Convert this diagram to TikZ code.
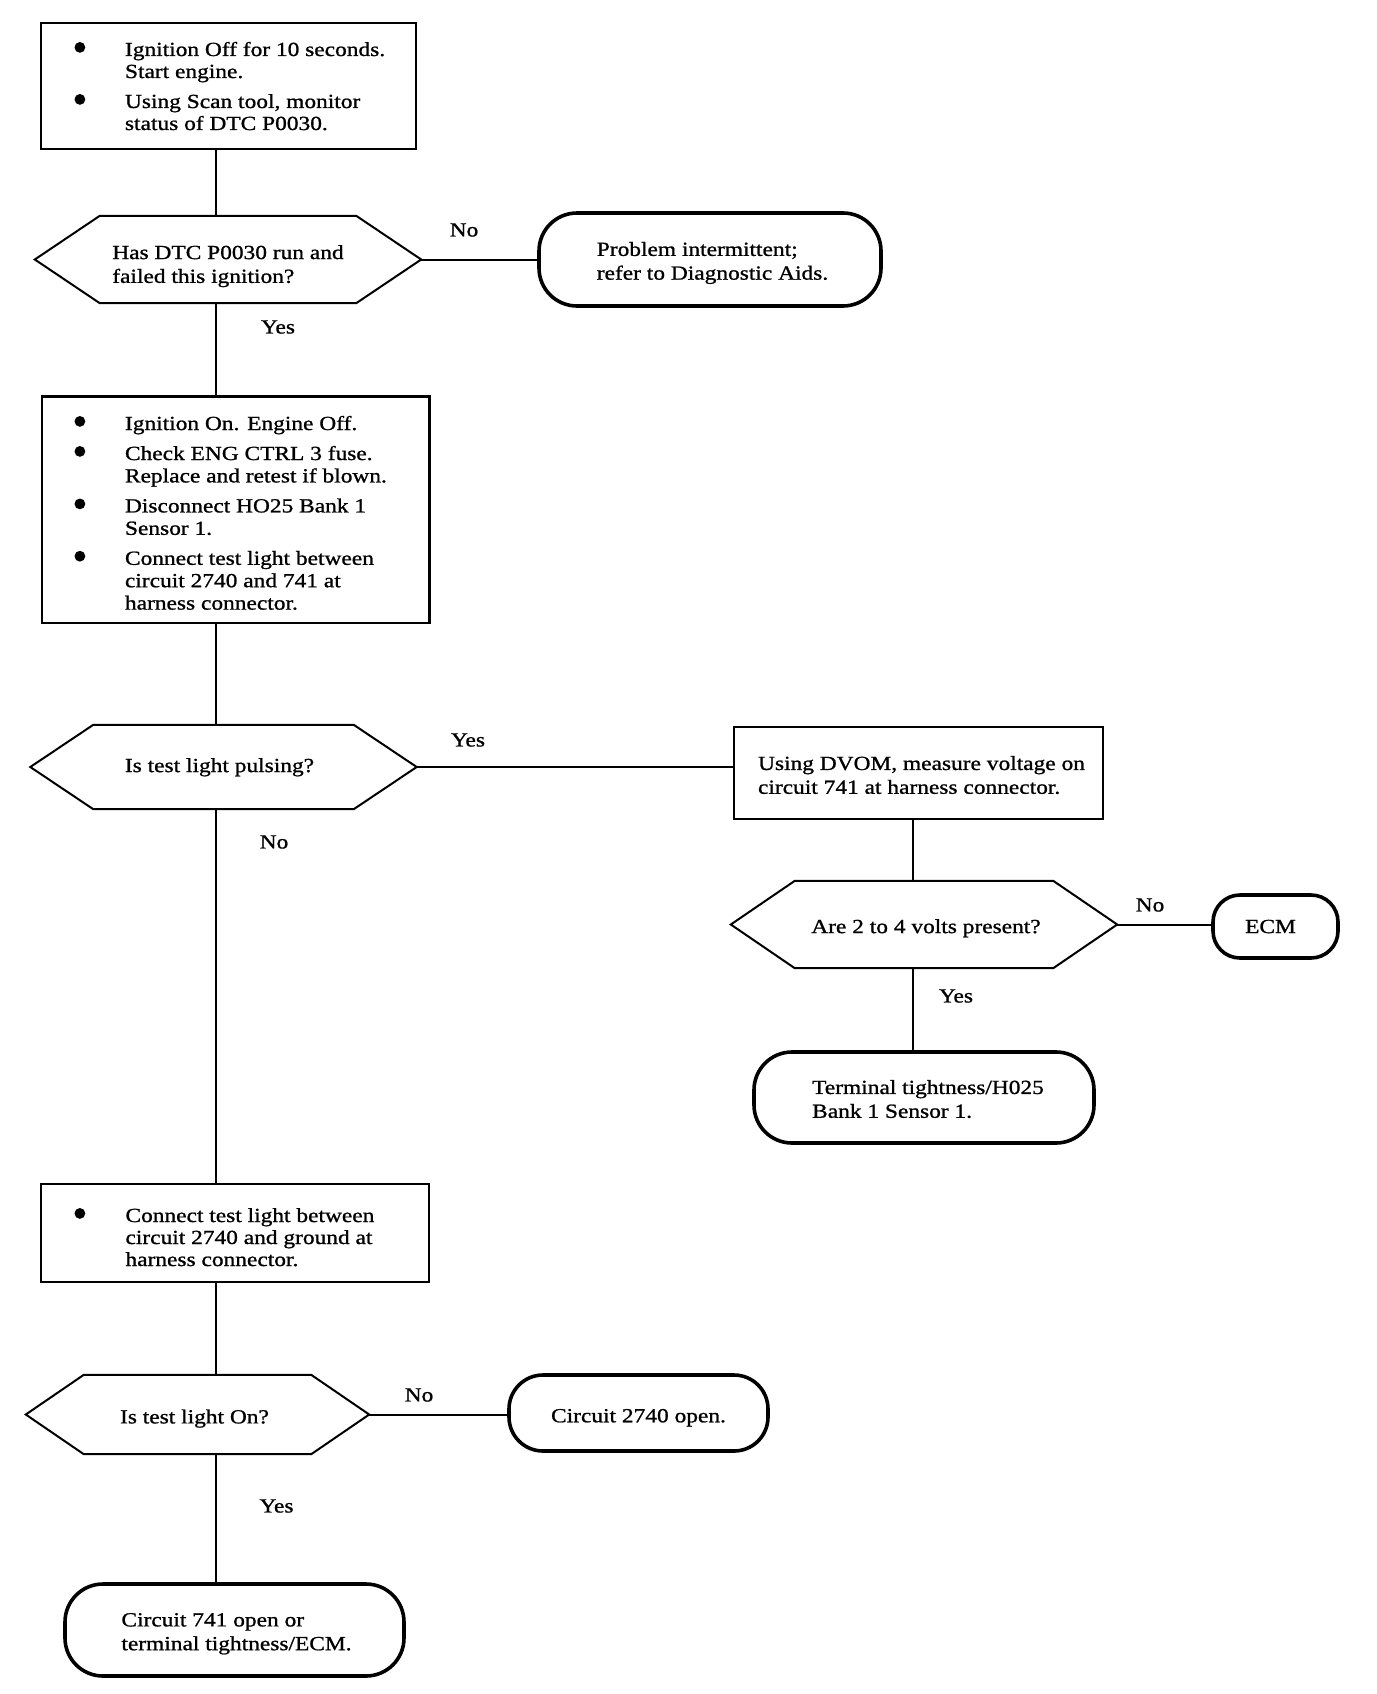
\documentclass[tikz,border=0pt]{standalone}
\usepackage{fontspec}
\setmainfont[FakeStretch=1.17,FakeBold=1]{Liberation Serif}
% width, height, top pad, baselineskip, leftskip, content
\newcommand{\boxbody}[6]{\begin{minipage}[c][#2][t]{#1}\vspace*{#3}\raggedright\leftskip=#5\parindent=0pt\parskip=0pt\baselineskip=#4\lineskiplimit=-50pt\lineskip=0pt\leavevmode\rule{0pt}{15pt}#6\end{minipage}}
% xshift, raise, baselineskip, lines
\newcommand{\tx}[4]{{\fontsize{20}{#3}\selectfont\hspace*{#1}\raisebox{#2}[\height][\depth]{\begin{tabular}{@{}l@{}}#4\end{tabular}}\hspace*{-#1}}}
\tikzset{
  every node/.style={font=\fontsize{20}{23}\selectfont, inner sep=0pt},
  procbox/.style={draw, line width=2.2pt, rectangle, inner sep=0pt},
  hexnode/.style={rectangle, inner sep=0pt},
  hexline/.style={line width=2pt, line join=miter},
  termbox/.style={draw, line width=3.6pt, rectangle, inner sep=0pt},
  conn/.style={line width=2pt},
  lbl/.style={inner sep=0pt},
  bulletdot/.style={fill=black}
}
\newcommand{\hexa}[2]{\draw[hexline] (#1.west) -- ([xshift=#2]#1.north west) -- ([xshift=-#2]#1.north east) -- (#1.east) -- ([xshift=-#2]#1.south east) -- ([xshift=#2]#1.south west) -- cycle;}
\begin{document}
\begin{tikzpicture}[x=1pt,y=-1pt]
\fill[white] (0,0) rectangle (1376,1694);
\useasboundingbox (0,0) rectangle (1376,1694);
\coordinate (mx) at (216,0);
\coordinate (rx) at (913,0);

% left column
\node[procbox, minimum width=375.3pt, minimum height=126.6pt] (b1) at (228.35,86)
  {\boxbody{375.3pt}{126.6pt}{18.3pt}{22pt}{84.3pt}{Ignition Off for 10 seconds.\\Start engine.\\[8pt]Using Scan tool, monitor\\status of DTC P0030.}};
\fill[bulletdot] (b1.north west) ++(40.3,25.8) circle[radius=5.4pt];
\fill[bulletdot] (b1.north west) ++(40.3,77.8) circle[radius=5.4pt];

\node[hexnode, minimum width=386pt, minimum height=87pt] (d1) at (228,259.5)
  {\tx{0pt}{-6.7pt}{23.8pt}{Has DTC P0030 run and\\failed this ignition?}};
\hexa{d1}{65pt}

\node[termbox, rounded corners=38pt, minimum width=342pt, minimum height=93pt] (t1) at (710,259.5)
  {\tx{2.5pt}{-3.5pt}{23.8pt}{Problem intermittent;\\refer to Diagnostic Aids.}};

\node[procbox, minimum width=387.5pt, minimum height=226.5pt] (b2) at (235.75,509.75)
  {\boxbody{387.5pt}{226.5pt}{18.5pt}{22.4pt}{83pt}{Ignition On. Engine Off.\\[7.6pt]Check ENG CTRL 3 fuse.\\Replace and retest if blown.\\[7.6pt]Disconnect HO25 Bank 1\\Sensor 1.\\[7.6pt]Connect test light between\\circuit 2740 and 741 at\\harness connector.}};
\fill[bulletdot] (b2.north west) ++(39,26) circle[radius=5.4pt];
\fill[bulletdot] (b2.north west) ++(39,56) circle[radius=5.4pt];
\fill[bulletdot] (b2.north west) ++(39,108.5) circle[radius=5.4pt];
\fill[bulletdot] (b2.north west) ++(39,160.8) circle[radius=5.4pt];

\node[hexnode, minimum width=386pt, minimum height=84pt] (d2) at (223.5,767)
  {\tx{-4pt}{-0.3pt}{23.8pt}{Is test light pulsing?}};
\hexa{d2}{63pt}

\node[procbox, minimum width=388pt, minimum height=98pt] (b3) at (235,1233)
  {\boxbody{388pt}{98pt}{23pt}{22pt}{84.5pt}{Connect test light between\\circuit 2740 and ground at\\harness connector.}};
\fill[bulletdot] (b3.north west) ++(40,30.5) circle[radius=5.4pt];

\node[hexnode, minimum width=343pt, minimum height=79pt] (d4) at (197.5,1414.5)
  {\tx{-3pt}{-4.1pt}{23.8pt}{Is test light On?}};
\hexa{d4}{58pt}

\node[termbox, rounded corners=34pt, minimum width=259pt, minimum height=76pt] (c27) at (638.5,1413)
  {\tx{0pt}{-4.5pt}{23.8pt}{Circuit 2740 open.}};

\node[termbox, rounded corners=38pt, minimum width=339pt, minimum height=92pt] (c741) at (234.5,1630)
  {\tx{2pt}{-3.5pt}{23.8pt}{Circuit 741 open or\\terminal tightness/ECM.}};

% right column
\node[procbox, minimum width=369pt, minimum height=92pt] (dv) at (918.5,773)
  {\tx{3pt}{-4.1pt}{23.8pt}{Using DVOM, measure voltage on\\circuit 741 at harness connector.}};

\node[hexnode, minimum width=386pt, minimum height=87pt] (d3) at (924,924.5)
  {\tx{2pt}{-3.8pt}{23.8pt}{Are 2 to 4 volts present?}};
\hexa{d3}{64pt}

\node[termbox, rounded corners=27pt, minimum width=125pt, minimum height=63pt] (ecm) at (1275.5,926.5)
  {\tx{-5pt}{-1.8pt}{23.8pt}{ECM}};

\node[termbox, rounded corners=38pt, minimum width=340pt, minimum height=91pt] (tt) at (924,1097.5)
  {\tx{4pt}{-3.6pt}{23.8pt}{Terminal tightness/H025\\Bank 1 Sensor 1.}};

% labels
\node[lbl] (no1) at (464,230) {No};
\node[lbl] (yes1) at (278,327) {Yes};
\node[lbl] (yes2) at (468,740) {Yes};
\node[lbl] (no2) at (274,842) {No};
\node[lbl] (no3) at (1150,905) {No};
\node[lbl] (yes3) at (956,996) {Yes};
\node[lbl] (no4) at (419,1395) {No};
\node[lbl] (yes4) at (276.5,1506) {Yes};

% connectors
\draw[conn] (mx |- b1.south) -- (mx |- d1.north);
\draw[conn] (d1.east) -- (t1.west);
\draw[conn] (mx |- d1.south) -- (mx |- b2.north);
\draw[conn] (mx |- b2.south) -- (mx |- d2.north);
\draw[conn] (d2.east) -- (d2.east -| dv.west);
\draw[conn] (rx |- dv.south) -- (rx |- d3.north);
\draw[conn] (d3.east) -- (d3.east -| ecm.west);
\draw[conn] (rx |- d3.south) -- (rx |- tt.north);
\draw[conn] (mx |- d2.south) -- (mx |- b3.north);
\draw[conn] (mx |- b3.south) -- (mx |- d4.north);
\draw[conn] (d4.east) -- (d4.east -| c27.west);
\draw[conn] (mx |- d4.south) -- (mx |- c741.north);
\end{tikzpicture}
\end{document}
